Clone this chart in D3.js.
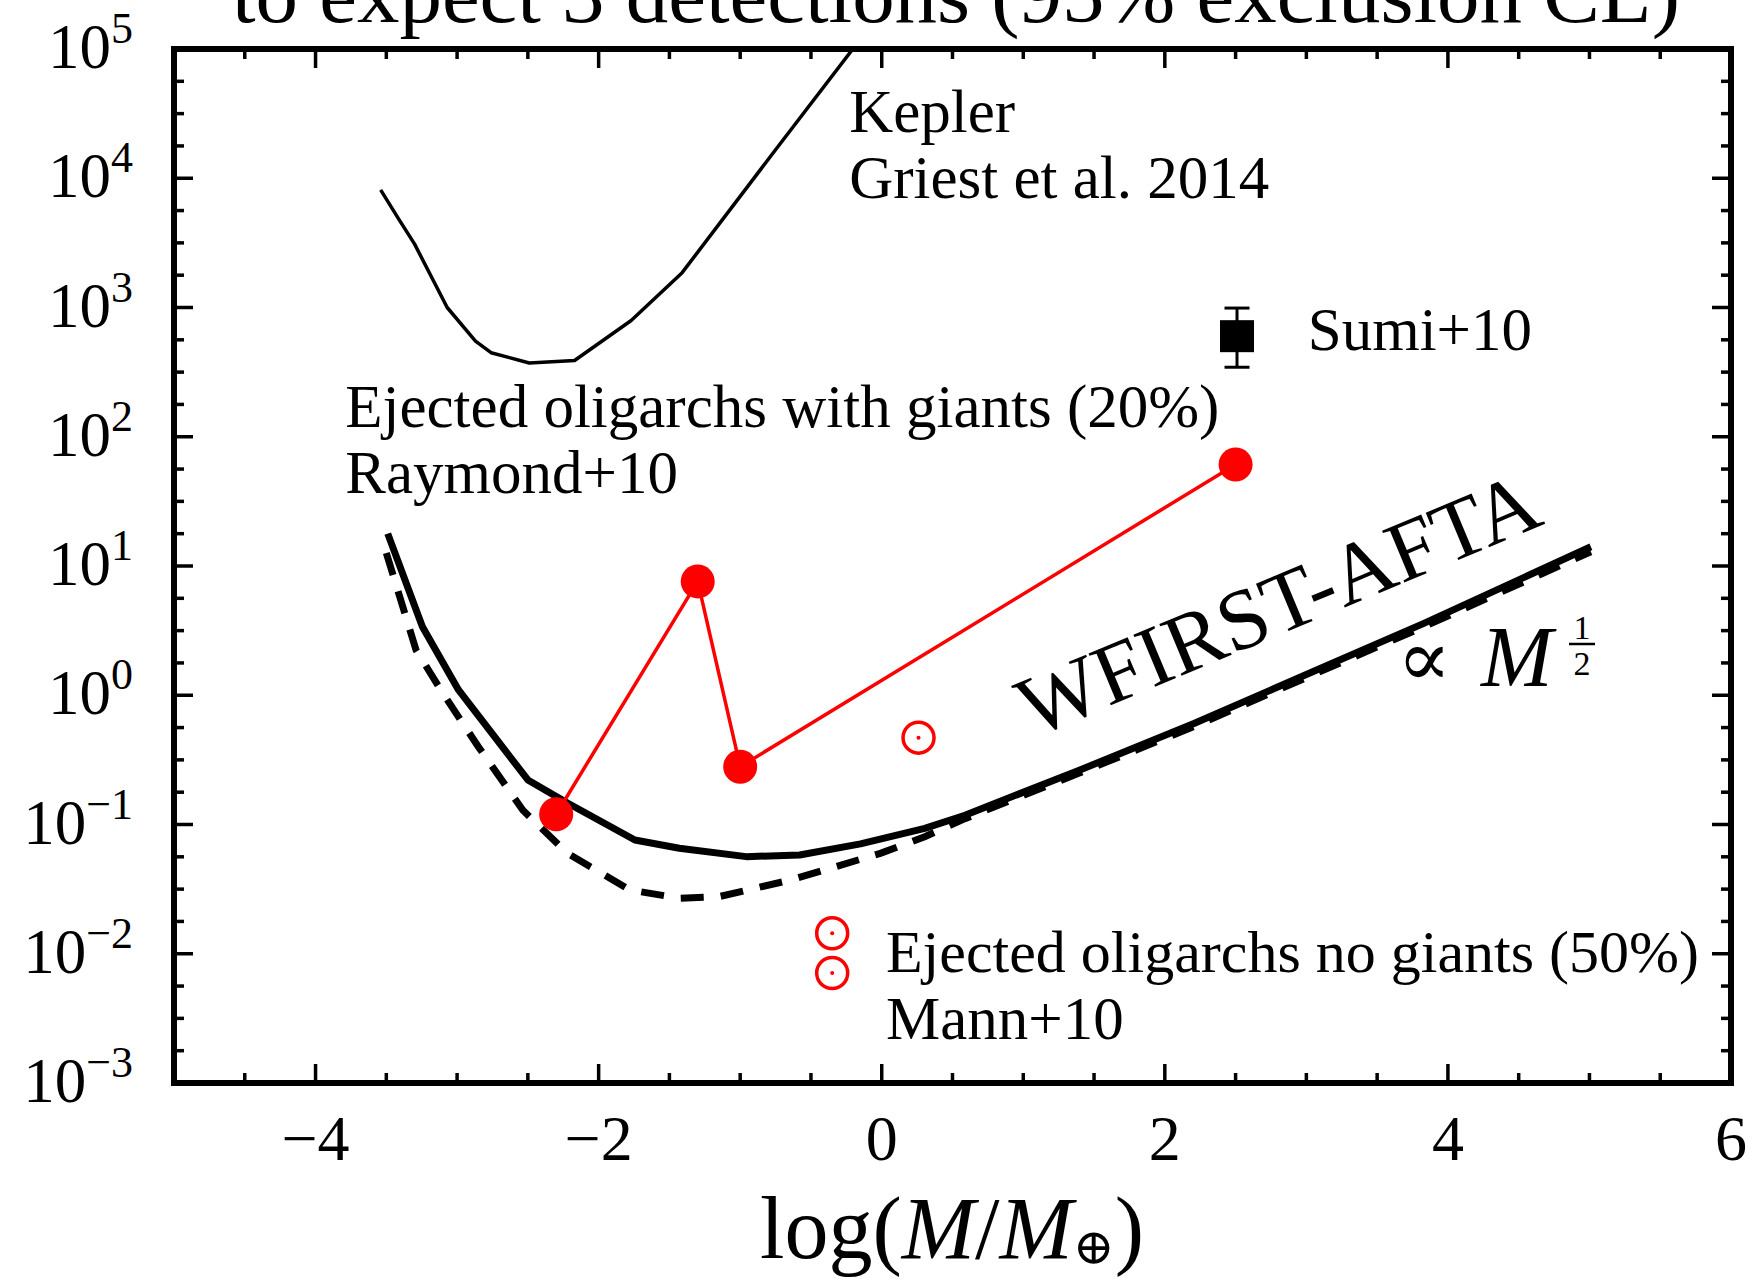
<!DOCTYPE html>
<html>
<head>
<meta charset="utf-8">
<script src="https://cdn.jsdelivr.net/npm/d3@7"></script>
<style>
  body { margin: 0; background: #fff; }
  text { font-family: "Liberation Serif", "DejaVu Serif", serif; fill: #000; }
</style>
</head>
<body>
<script>
// Kepler limit (Griest et al. 2014)
const keplerLogM = [-3.54, -3.41, -3.30, -3.07, -2.87, -2.76, -2.49, -2.17, -1.77, -1.41, -0.75, -0.10];
const keplerN    = [8130, 4790, 3090, 1000, 550, 447, 372, 389, 794, 1860, 16600, 141000];

// WFIRST-AFTA, solid
const wfirstLogM = [-3.49, -3.245, -2.99, -2.50, -2.217, -1.744, -1.43, -0.958, -0.58, -0.15, 0.304, 0.588, 1.40, 2.21, 3.02, 3.83, 5.01];
const wfirstN    = [17.8, 3.39, 1.10, 0.221, 0.146, 0.0759, 0.0655, 0.0564, 0.0581, 0.0708, 0.0933, 0.118, 0.264, 0.607, 1.48, 3.60, 14.1];

// WFIRST-AFTA, dashed
const wfirstDashLogM = [-3.50, -3.29, -3.10, -2.85, -2.535, -2.22, -1.778, -1.43, -1.148, -0.643, -0.01, 0.304, 0.588, 1.40, 2.21, 3.02, 3.83, 5.01];
const wfirstDashN    = [12.6, 2.24, 1.035, 0.40, 0.129, 0.0598, 0.0311, 0.0269, 0.0277, 0.0372, 0.0598, 0.0805, 0.111, 0.251, 0.575, 1.40, 3.39, 12.9];

// ejected oligarchs with giants (Raymond+10)
const raymondLogM = [-2.3, -1.3, -1.0, 2.5];
const raymondN    = [0.12, 7.6, 0.28, 61];

// ejected oligarchs no giants (Mann+10)
const mannLogM = [0.26, -0.35, -0.35];
const mannN    = [0.47, 0.0144, 0.0071];

// Sumi+10
const sumiLogM = [2.51];
const sumiN    = [600];
const sumiLo   = [345];
const sumiHi   = [990];

const xTicks = [-4, -2, 0, 2, 4, 6];
const yExps  = [-3, -2, -1, 0, 1, 2, 3, 4, 5];

const width = 1750, height = 1279;
const margin = { top: 49, right: 19, bottom: 196, left: 174 };

let svg = d3.select("body").append("svg")
    .attr("width", width)
    .attr("height", height);

let x = d3.scaleLinear()
    .domain([-5, 6])
    .range([margin.left, width - margin.right]);

let y = d3.scaleLog()
    .domain([1e-3, 1e5])
    .range([height - margin.bottom, margin.top]);

const minus = s => String(s).replace("-", "\u2212");

// title, mostly cut off at the top (as in the original)
svg.append("text")
    .attr("x", 232)
    .attr("y", 22)
    .attr("font-size", 80)
    .attr("textLength", 1448)
    .attr("lengthAdjust", "spacingAndGlyphs")
    .text("to expect 3 detections (95% exclusion CL)");

svg.append("clipPath").attr("id", "plotclip")
  .append("rect")
    .attr("x", x(-5)).attr("y", y(1e5))
    .attr("width", x(6) - x(-5)).attr("height", y(1e-3) - y(1e5));

let line = d3.line()
    .x(d => x(d[0]))
    .y(d => y(d[1]));

let zip = (a, b) => a.map((v, i) => [v, b[i]]);

let plot = svg.append("g").attr("clip-path", "url(#plotclip)");

// Kepler
plot.append("path")
    .datum(zip(keplerLogM, keplerN))
    .attr("d", line)
    .attr("fill", "none")
    .attr("stroke", "#000")
    .attr("stroke-width", 3.5)
    .attr("stroke-linejoin", "round");

// WFIRST dashed
plot.append("path")
    .datum(zip(wfirstDashLogM, wfirstDashN))
    .attr("d", line)
    .attr("fill", "none")
    .attr("stroke", "#000")
    .attr("stroke-width", 7)
    .attr("stroke-dasharray", "23,17");

// WFIRST solid
plot.append("path")
    .datum(zip(wfirstLogM, wfirstN))
    .attr("d", line)
    .attr("fill", "none")
    .attr("stroke", "#000")
    .attr("stroke-width", 7)
    .attr("stroke-linejoin", "round");

// Raymond+10
plot.append("path")
    .datum(zip(raymondLogM, raymondN))
    .attr("d", line)
    .attr("fill", "none")
    .attr("stroke", "#ff0000")
    .attr("stroke-width", 3.5);

plot.selectAll(".raymond")
    .data(zip(raymondLogM, raymondN))
    .enter().append("circle")
    .attr("class", "raymond")
    .attr("cx", d => x(d[0]))
    .attr("cy", d => y(d[1]))
    .attr("r", 17)
    .attr("fill", "#ff0000");

// Mann+10 (sun symbols)
let mann = plot.selectAll(".mann")
    .data(zip(mannLogM, mannN))
    .enter().append("g")
    .attr("class", "mann")
    .attr("transform", d => `translate(${x(d[0])},${y(d[1])})`);
mann.append("circle")
    .attr("r", 15.5)
    .attr("fill", "none")
    .attr("stroke", "#ff0000")
    .attr("stroke-width", 3.5);
mann.append("circle")
    .attr("r", 2)
    .attr("fill", "#ff0000");

// Sumi+10
const capW = 25;
let sumi = zip(sumiLogM, sumiN).map((d, i) => ({ m: d[0], n: d[1], lo: sumiLo[i], hi: sumiHi[i] }));
sumi.forEach(d => {
  plot.append("line")
      .attr("x1", x(d.m)).attr("x2", x(d.m))
      .attr("y1", y(d.lo)).attr("y2", y(d.hi))
      .attr("stroke", "#000").attr("stroke-width", 3);
  [d.lo, d.hi].forEach(v =>
    plot.append("line")
        .attr("x1", x(d.m) - capW / 2).attr("x2", x(d.m) + capW / 2)
        .attr("y1", y(v)).attr("y2", y(v))
        .attr("stroke", "#000").attr("stroke-width", 3));
  plot.append("rect")
      .attr("x", x(d.m) - 17).attr("y", y(d.n) - 16)
      .attr("width", 34).attr("height", 32)
      .attr("fill", "#000");
});

// frame and ticks
const x0 = x(-5), x1 = x(6), y0 = y(1e-3), y1 = y(1e5);
const majorLen = 19, minorLen = 10;

let xMinor = d3.range(-5, 6.001, 0.5);
xMinor.forEach(t => {
  let len = (Math.abs(t % 2) < 1e-9) ? majorLen : minorLen;
  svg.append("line").attr("x1", x(t)).attr("x2", x(t))
     .attr("y1", y0).attr("y2", y0 - len)
     .attr("stroke", "#000").attr("stroke-width", 3.5);
  svg.append("line").attr("x1", x(t)).attr("x2", x(t))
     .attr("y1", y1).attr("y2", y1 + len)
     .attr("stroke", "#000").attr("stroke-width", 3.5);
});

let yMinor = d3.range(-3, 5.001, 0.25);
yMinor.forEach(e => {
  let len = (Math.abs(e - Math.round(e)) < 1e-9) ? majorLen : minorLen;
  let yy = y(Math.pow(10, e));
  svg.append("line").attr("x1", x0).attr("x2", x0 + len)
     .attr("y1", yy).attr("y2", yy)
     .attr("stroke", "#000").attr("stroke-width", 3.5);
  svg.append("line").attr("x1", x1).attr("x2", x1 - len)
     .attr("y1", yy).attr("y2", yy)
     .attr("stroke", "#000").attr("stroke-width", 3.5);
});

svg.append("rect")
    .attr("x", x0).attr("y", y1)
    .attr("width", x1 - x0).attr("height", y0 - y1)
    .attr("fill", "none")
    .attr("stroke", "#000")
    .attr("stroke-width", 6);

// tick labels
svg.selectAll(".xlab")
    .data(xTicks)
    .enter().append("text")
    .attr("class", "xlab")
    .attr("x", d => x(d))
    .attr("y", 1160)
    .attr("text-anchor", "middle")
    .attr("font-size", 64)
    .text(d => minus(d));

yExps.forEach(e => {
  let t = svg.append("text")
      .attr("x", 133)
      .attr("y", y(Math.pow(10, e)) + 19)
      .attr("text-anchor", "end");
  t.append("tspan").attr("font-size", 63).text("10");
  t.append("tspan").attr("font-size", 44).attr("dy", -25).text(minus(e));
});

// x axis label
let xl = svg.append("text")
    .attr("x", 952)
    .attr("y", 1258)
    .attr("text-anchor", "middle")
    .attr("font-size", 88);
xl.append("tspan").text("log(");
xl.append("tspan").attr("font-style", "italic").text("M");
xl.append("tspan").text("/");
xl.append("tspan").attr("font-style", "italic").text("M");
xl.append("tspan").attr("font-size", 50).attr("dy", 6).text("\u2295");
xl.append("tspan").attr("dy", -6).text(")");

// annotations
const note = (m, n, s, size) => svg.append("text")
    .attr("x", x(m)).attr("y", y(n))
    .attr("font-size", size || 61)
    .text(s);

note(-0.23, 22800, "Kepler");
note(-0.23, 7030, "Griest et al. 2014");
note(3.01, 469, "Sumi+10");
note(-3.79, 119, "Ejected oligarchs with giants (20%)");
note(-3.79, 36.7, "Raymond+10");
note(0.03, 0.00723, "Ejected oligarchs no giants (50%)", 60);
note(0.03, 0.00219, "Mann+10");

svg.append("text")
    .attr("transform", `translate(${x(1.067)},${y(0.467)}) rotate(-22.7)`)
    .attr("font-size", 86)
    .attr("textLength", 556)
    .attr("lengthAdjust", "spacingAndGlyphs")
    .text("WFIRST-AFTA");

// proportional to M^(1/2)
let px = x(3.64), py = y(1.18);
svg.append("text")
    .attr("x", px).attr("y", py)
    .attr("font-size", 80)
    .text("\u221D");
svg.append("text")
    .attr("x", px + 84).attr("y", py)
    .attr("font-size", 86)
    .attr("font-style", "italic")
    .text("M");
svg.append("text").attr("x", 1582).attr("y", 639)
    .attr("text-anchor", "middle").attr("font-size", 34).text("1");
svg.append("line").attr("x1", 1569).attr("x2", 1595)
    .attr("y1", 644).attr("y2", 644)
    .attr("stroke", "#000").attr("stroke-width", 2.5);
svg.append("text").attr("x", 1582).attr("y", 675)
    .attr("text-anchor", "middle").attr("font-size", 34).text("2");
</script>
</body>
</html>
